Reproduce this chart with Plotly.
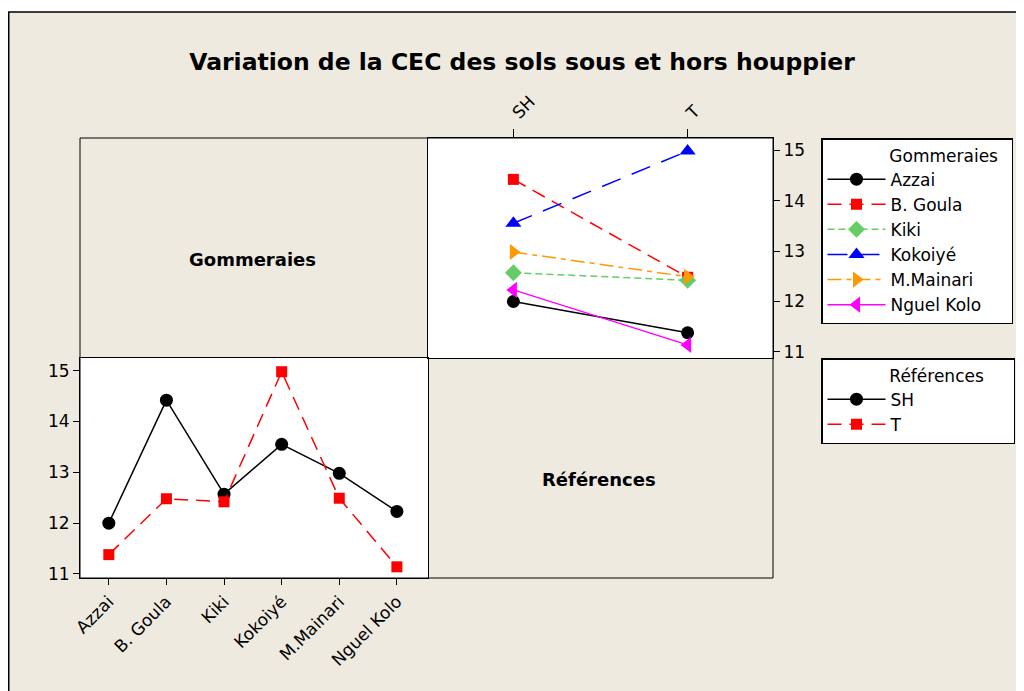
import plotly.graph_objects as go

sites = ["Azzai", "B. Goula", "Kiki", "Kokoiyé", "M.Mainari", "Nguel Kolo"]
refs = ["SH", "T"]
cec_sh = [12.0, 14.42, 12.57, 13.55, 12.98, 12.23]
cec_t = [11.38, 12.48, 12.42, 14.98, 12.49, 11.14]
y_ticks = [11, 12, 13, 14, 15]

site_colors = ["black", "#FF0000", "#66CC66", "#0000FF", "#FF9900", "#FF00FF"]
site_symbols = ["circle", "square", "diamond", "triangle-up", "triangle-right", "triangle-left"]
site_dashes = ["solid", "14px,8px", "7px,4px", "20px,12px", "14px,5px,5px,5px", "solid"]
site_sizes = [13, 11, 13, 14, 14, 14]

ref_colors = ["black", "#FF0000"]
ref_symbols = ["circle", "square"]
ref_dashes = ["solid", "14px,8px"]
ref_sizes = [13, 11]

BG = "#EEEAE0"
FONT = "DejaVu Sans"
FS = 17

W, H = 1024, 691
OFF = 8  # page body margin


def fx(px):
    return px - OFF


def fy(py):
    return py - OFF


L, T = fx(80), fy(138)
R, B = W - fx(773), H - fy(578)
pw, ph = W - L - R, H - T - B


def paper_x(px):
    return (fx(px) - L) / pw


def paper_y(py):
    return (fy(578) - fy(py)) / ph


fig = go.Figure()

# Top-right panel: each site across references
for i, s in enumerate(sites):
    fig.add_trace(go.Scatter(
        x=refs, y=[cec_sh[i], cec_t[i]], name=s, mode="lines+markers",
        line=dict(color=site_colors[i], dash=site_dashes[i], width=1.5),
        marker=dict(symbol=site_symbols[i], size=site_sizes[i], color=site_colors[i]),
        xaxis="x2", yaxis="y2", legend="legend"))

# Bottom-left panel: each reference across sites
for j, (r, vals) in enumerate(zip(refs, [cec_sh, cec_t])):
    fig.add_trace(go.Scatter(
        x=sites, y=vals, name=r, mode="lines+markers",
        line=dict(color=ref_colors[j], dash=ref_dashes[j], width=1.5),
        marker=dict(symbol=ref_symbols[j], size=ref_sizes[j], color=ref_colors[j]),
        xaxis="x", yaxis="y", legend="legend2"))

split = 348 / pw
axcommon = dict(showline=True, linecolor="black", linewidth=1, mirror=True,
                showgrid=False, zeroline=False, ticks="outside", tickcolor="black",
                tickfont=dict(family=FONT, size=FS, color="black"))

legcommon = dict(xanchor="left", yanchor="top", bgcolor="white", bordercolor="black",
                 borderwidth=1.5, itemwidth=58,
                 font=dict(family=FONT, size=FS, color="black"))

fig.update_layout(
    width=W, height=H,
    margin=dict(l=L, r=R, t=T, b=B),
    paper_bgcolor=BG, plot_bgcolor="white",
    title=dict(text="<b>Variation de la CEC des sols sous et hors houppier</b>",
               x=fx(522) / W, xanchor="center", y=1 - fy(62) / H, yanchor="middle",
               font=dict(family=FONT, size=23.5, color="black")),
    xaxis=dict(domain=[0, split], anchor="y", range=[-0.5, 5.54], tickangle=-45,
               ticklen=6, **axcommon),
    yaxis=dict(domain=[0, 0.5], anchor="x", range=[10.92, 15.25], tickvals=y_ticks,
               ticklen=6, **axcommon),
    xaxis2=dict(domain=[split, 1], anchor="y2", side="top", range=[-0.49, 1.49],
                tickangle=-45, ticklen=8, **axcommon),
    yaxis2=dict(domain=[0.5, 1], anchor="x2", side="right", range=[10.88, 15.24],
                tickvals=y_ticks, ticklen=6, **axcommon),
    legend=dict(x=paper_x(821), y=1.0,
                title=dict(text="\u00a0" * 12 + "Gommeraies" + "\u00a0" * 2,
                           font=dict(family=FONT, size=FS, color="black")),
                **legcommon),
    legend2=dict(x=paper_x(821), y=0.5,
                 title=dict(text="\u00a0" * 12 + "Références" + "\u00a0" * 5,
                            font=dict(family=FONT, size=FS, color="black")),
                 **legcommon),
    showlegend=True,
)

fig.add_annotation(text="<b>Gommeraies</b>", x=paper_x(252), y=paper_y(259),
                   xref="paper", yref="paper", showarrow=False,
                   xanchor="center", yanchor="middle",
                   font=dict(family=FONT, size=18, color="black"))
fig.add_annotation(text="<b>Références</b>", x=paper_x(599), y=paper_y(479),
                   xref="paper", yref="paper", showarrow=False,
                   xanchor="center", yanchor="middle",
                   font=dict(family=FONT, size=18, color="black"))

# grid frame
fig.add_shape(type="rect", xref="paper", yref="paper", x0=0, x1=1, y0=0, y1=1,
              line=dict(color="black", width=1), fillcolor="rgba(0,0,0,0)")
# white strip at top and outer frame
fig.add_shape(type="rect", xref="paper", yref="paper",
              x0=-0.3, x1=1.6, y0=paper_y(12), y1=1.5,
              line=dict(width=0), fillcolor="white")
fig.add_shape(type="rect", xref="paper", yref="paper",
              x0=paper_x(8.75), x1=paper_x(1030), y0=paper_y(700), y1=paper_y(12),
              line=dict(color="black", width=1.5), fillcolor="rgba(0,0,0,0)")

fig.write_html("out.html")
